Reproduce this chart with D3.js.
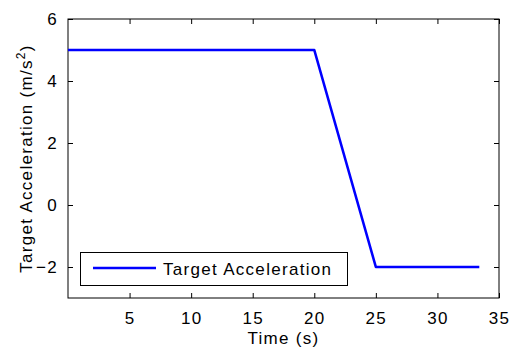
<!DOCTYPE html>
<html>
<head>
<meta charset="utf-8">
<script src="https://cdn.jsdelivr.net/npm/d3@7"></script>
<style>
  html, body { margin: 0; padding: 0; background: #fff; }
  svg { display: block; }
  text { font-family: "Liberation Sans", Arial, Helvetica, sans-serif; font-size: 17px; letter-spacing: 1.3px; fill: #000; }
</style>
</head>
<body>
<svg id="chart" width="510" height="350"></svg>
<script>
// Target acceleration profile: breakpoints of the piecewise-linear command
const timeS = [0, 20, 25, 33.4];
const accel = [5, 5, -2, -2];
const xTicks = [5, 10, 15, 20, 25, 30, 35];
const yTicks = [-2, 0, 2, 4, 6];
const seriesName = "Target Acceleration";

const W = 510, H = 350;
const m = { left: 68, right: 11, top: 19, bottom: 52 };
const svg = d3.select("#chart");

const x = d3.scaleLinear().domain([0, 35]).range([m.left, W - m.right]);
const y = d3.scaleLinear().domain([-3, 6]).range([H - m.bottom, m.top]);

const tickLen = 5;

// axis box
svg.append("rect")
  .attr("x", m.left).attr("y", m.top)
  .attr("width", W - m.left - m.right).attr("height", H - m.top - m.bottom)
  .attr("fill", "none").attr("stroke", "#000").attr("stroke-width", 1);

// inward ticks on all four sides
const bottomAxis = d3.axisBottom(x).tickValues(xTicks).tickSizeInner(-tickLen).tickSizeOuter(0).tickPadding(14);
const topAxis = d3.axisTop(x).tickValues(xTicks).tickSizeInner(-tickLen).tickSizeOuter(0).tickFormat("");
const leftAxis = d3.axisLeft(y).tickValues(yTicks).tickSizeInner(-tickLen).tickSizeOuter(0).tickPadding(10);
const rightAxis = d3.axisRight(y).tickValues(yTicks).tickSizeInner(-tickLen).tickSizeOuter(0).tickFormat("");

function styleAxis(g) {
  g.select(".domain").remove();
  g.selectAll(".tick line").attr("stroke", "#000");
  g.selectAll(".tick text").attr("fill", "#000").style("font-size", "17px")
    .style("font-family", "'Liberation Sans', Arial, sans-serif");
}

svg.append("g").attr("transform", `translate(0,${H - m.bottom})`).call(bottomAxis).call(styleAxis);
svg.append("g").attr("transform", `translate(0,${m.top})`).call(topAxis).call(styleAxis);
svg.append("g").attr("transform", `translate(${m.left},0)`).call(leftAxis).call(styleAxis);
svg.append("g").attr("transform", `translate(${W - m.right},0)`).call(rightAxis).call(styleAxis);

// series line
const pts = timeS.map((t, i) => [t, accel[i]]);
svg.append("path")
  .datum(pts)
  .attr("fill", "none")
  .attr("stroke", "#0000ff")
  .attr("stroke-width", 2.6)
  .attr("stroke-linejoin", "round")
  .attr("d", d3.line().x(d => x(d[0])).y(d => y(d[1])));

// axis labels
svg.append("text")
  .attr("x", (m.left + W - m.right) / 2)
  .attr("y", 344)
  .attr("text-anchor", "middle")
  .text("Time (s)");

const yl = svg.append("text")
  .attr("transform", `translate(31.5,${(m.top + H - m.bottom) / 2}) rotate(-90)`)
  .attr("text-anchor", "middle");
yl.append("tspan").text("Target Acceleration (m/s");
yl.append("tspan").attr("baseline-shift", "super").style("font-size", "12px").text("2");
yl.append("tspan").text(")");

// legend
const lg = svg.append("g");
lg.append("rect")
  .attr("x", 80.5).attr("y", 252.5).attr("width", 267).attr("height", 33)
  .attr("fill", "#fff").attr("stroke", "#000").attr("stroke-width", 1);
lg.append("line")
  .attr("x1", 93).attr("x2", 156).attr("y1", 268).attr("y2", 268)
  .attr("stroke", "#0000ff").attr("stroke-width", 2.6);
lg.append("text")
  .attr("x", 163).attr("y", 274.5)
  .text(seriesName);
</script>
</body>
</html>
